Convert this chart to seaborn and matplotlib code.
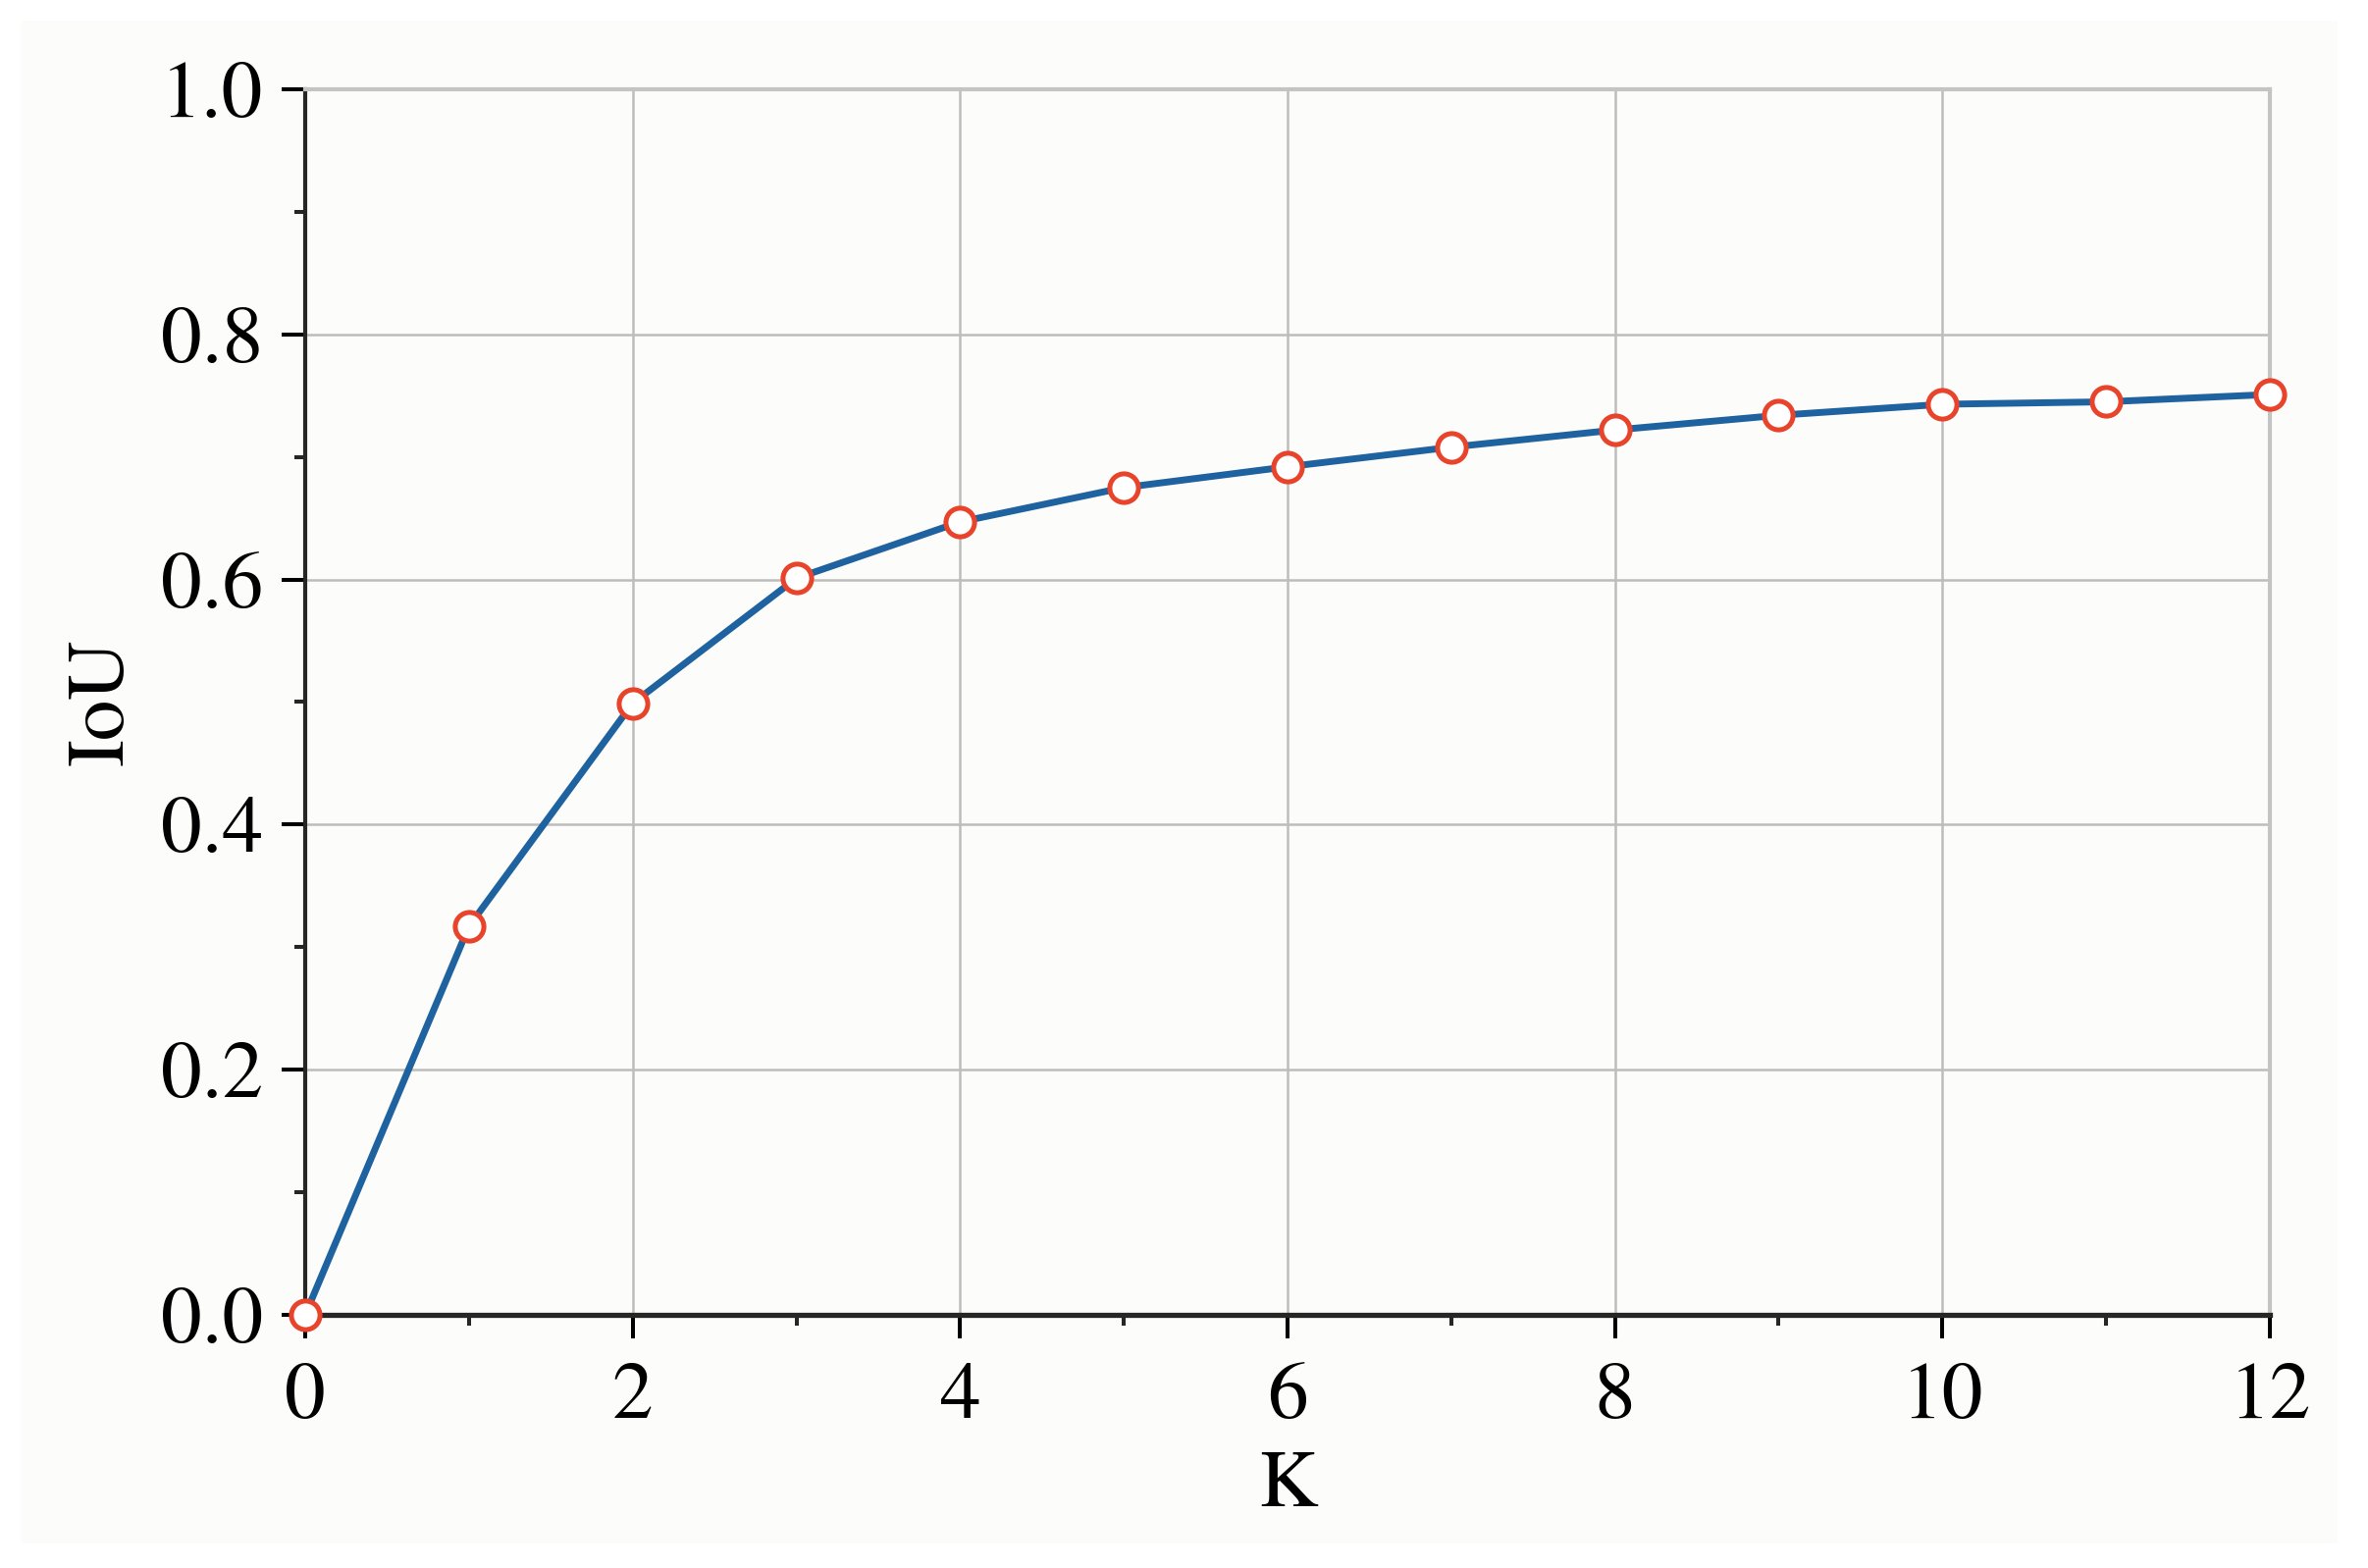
import numpy as np
import pandas as pd
import seaborn as sns
import matplotlib.pyplot as plt
from matplotlib import font_manager
from matplotlib.font_manager import FontProperties
from matplotlib.patches import Rectangle
from matplotlib.ticker import MultipleLocator

# значения
k_values = [0, 1, 2, 3, 4, 5, 6, 7, 8, 9, 10, 11, 12]
iou_values = [0.0, 0.317, 0.499, 0.601, 0.647, 0.675, 0.692, 0.708,
              0.722, 0.734, 0.743, 0.745, 0.751]
x_ticks = [0, 2, 4, 6, 8, 10, 12]
y_ticks = [0.0, 0.2, 0.4, 0.6, 0.8, 1.0]

data = pd.DataFrame({'K': k_values, 'IoU': iou_values})

sns.set_theme(style='ticks')


def times_like(size):
    # первый найденный шрифт в духе Times
    for name in ['Tinos', 'STIXGeneral', 'Liberation Serif', 'Nimbus Roman']:
        try:
            path = font_manager.findfont(FontProperties(family=name),
                                         fallback_to_default=False)
        except ValueError:
            continue
        if 'DejaVu' in path:
            continue
        return FontProperties(fname=path, size=size)
    return FontProperties(family='serif', size=size)


fp = times_like(60)

fig = plt.figure(figsize=(24.13, 15.98), dpi=100, facecolor='white')
fig.patches.append(Rectangle((21 / 2413, 1 - 1573 / 1598), (2382 - 21) / 2413, (1573 - 21) / 1598,
                             transform=fig.transFigure, facecolor='#fcfcfa',
                             edgecolor='none', zorder=-10))
ax = fig.add_axes([311 / 2413, 1 - 1340 / 1598, (2313 - 311) / 2413, (1340 - 91) / 1598])
ax.set_zorder(1)
ax.set_facecolor('none')

sns.lineplot(data=data, x='K', y='IoU', ax=ax, color='#1f62a0', linewidth=5.0,
             marker='o', markersize=21, markerfacecolor='white',
             markeredgecolor='#e8432b', markeredgewidth=3.6, clip_on=False, zorder=5)

ax.set_xlim(0, 12)
ax.set_ylim(0, 1.0)
ax.set_xticks(x_ticks)
ax.set_yticks(y_ticks)
ax.set_xticklabels([str(v) for v in x_ticks])
ax.set_yticklabels([f'{v:.1f}' for v in y_ticks])
ax.xaxis.set_minor_locator(MultipleLocator(1))
ax.yaxis.set_minor_locator(MultipleLocator(0.1))

ax.grid(True, which='major', color='#bdbdbd', linewidth=1.8)
ax.set_axisbelow(True)

for side in ['top', 'right']:
    ax.spines[side].set_color('#c4c4c4')
    ax.spines[side].set_linewidth(3.0)
ax.spines['bottom'].set_linewidth(3.8)
ax.spines['left'].set_linewidth(3.0)
ax.spines['bottom'].set_zorder(4)

ax.tick_params(axis='both', which='major', direction='out', length=17, width=2.9,
               colors='black', top=False, right=False)
ax.tick_params(axis='both', which='minor', direction='out', length=8, width=2.9,
               top=False, right=False)
ax.tick_params(axis='x', which='major', pad=18)
ax.tick_params(axis='y', which='major', pad=14)

for lab in ax.get_xticklabels() + ax.get_yticklabels():
    lab.set_fontproperties(fp)

ax.set_xlabel('K', fontproperties=fp, labelpad=12, color='black')
ax.set_ylabel('IoU', fontproperties=fp, labelpad=15, color='black')

plt.savefig('out.png', dpi=100, facecolor=fig.get_facecolor())
